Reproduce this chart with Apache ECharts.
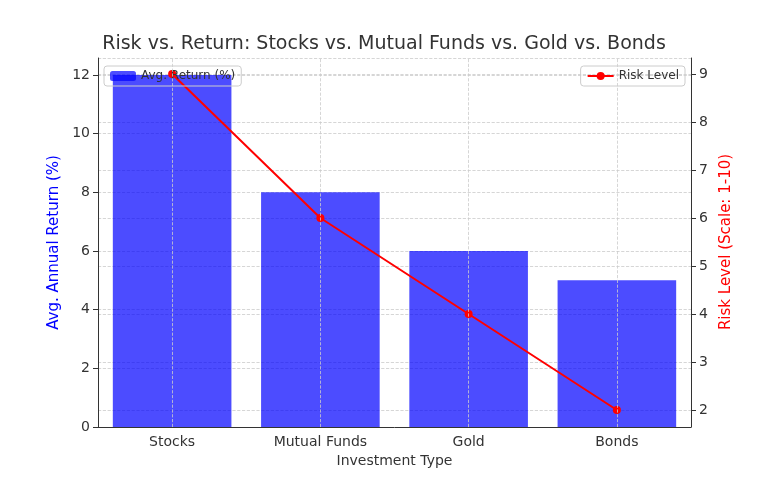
<!DOCTYPE html>
<html><head><meta charset="utf-8">
<script src="https://cdn.jsdelivr.net/npm/echarts@6/dist/echarts.min.js"></script>
<style>html,body{margin:0;background:#fff}#c{width:768px;height:480px}</style>
</head><body><div id="c"></div>
<script>
var categories = ['Stocks', 'Mutual Funds', 'Gold', 'Bonds'];
var avgReturn = [12, 8, 6, 5];
var riskLevel = [9, 6, 4, 2];

var chart = echarts.init(document.getElementById('c'));
var font = 'DejaVu Sans';
var dash = {show: true, lineStyle: {color: '#cccccc', type: 'dashed', width: 0.8}};
var option = {
    textStyle: {fontFamily: font},
    animation: false,
    title: {text: 'Risk vs. Return: Stocks vs. Mutual Funds vs. Gold vs. Bonds', left: 'center', top: 30,
        textStyle: {fontFamily: font, fontSize: 19, fontWeight: 'normal', color: '#333'}},
    legend: [
        {data: ['Avg. Return (%)'], left: 104, top: 66, itemWidth: 26, itemHeight: 10,
         borderColor: '#ccc', borderWidth: 1, borderRadius: 3, padding: [4, 6],
         textStyle: {fontSize: 12, color: '#333'}},
        {data: ['Risk Level'], right: 83, top: 66, itemWidth: 26, itemHeight: 10,
         borderColor: '#ccc', borderWidth: 1, borderRadius: 3, padding: [4, 6],
         textStyle: {fontSize: 12, color: '#333'}}
    ],
    grid: [
        {left: 98, right: 77, top: 58, bottom: 53},
        {left: 98, right: 77, top: 74, bottom: 70}
    ],
    xAxis: [
        {type: 'category', gridIndex: 0, data: categories, name: 'Investment Type', nameLocation: 'middle', nameGap: 26,
         nameTextStyle: {fontSize: 14, color: '#333'},
         axisLine: {lineStyle: {color: '#333'}}, axisTick: {alignWithLabel: true, lineStyle: {color: '#333'}},
         axisLabel: {fontSize: 14, color: '#333'}, splitLine: {show: false}},
        {type: 'category', gridIndex: 1, data: categories, show: false}
    ],
    yAxis: [
        {type: 'value', gridIndex: 0, min: 0, max: 12.58, interval: 2, name: 'Avg. Annual Return (%)',
         nameLocation: 'middle', nameGap: 34, nameTextStyle: {fontSize: 15, color: '#0000ff'},
         axisLine: {show: true, lineStyle: {color: '#333'}}, axisTick: {show: true, lineStyle: {color: '#333'}},
         axisLabel: {fontSize: 14, color: '#333', showMaxLabel: false}, splitLine: dash},
        {type: 'value', gridIndex: 0, position: 'right', min: 0, max: 1, axisLabel: {show: false},
         axisTick: {show: false}, splitLine: {show: false}, axisLine: {show: true, lineStyle: {color: '#333'}}},
        {type: 'value', gridIndex: 1, position: 'right', min: 2, max: 9, interval: 1, name: 'Risk Level (Scale: 1-10)',
         nameLocation: 'middle', nameGap: 28, nameRotate: 90, nameTextStyle: {fontSize: 15, color: '#ff0000'},
         axisLine: {show: false}, axisTick: {show: true, lineStyle: {color: '#333'}},
         axisLabel: {fontSize: 14, color: '#333'}, splitLine: dash}
    ],
    series: [
        {name: 'Avg. Return (%)', type: 'bar', xAxisIndex: 0, yAxisIndex: 0, data: avgReturn, barWidth: '80%',
         itemStyle: {color: 'rgba(0,0,255,0.7)'},
         markLine: {silent: true, symbol: 'none', label: {show: false},
            lineStyle: {color: '#cccccc', type: 'dashed', width: 0.8},
            data: categories.map(function (c) { return {xAxis: c}; })}},
        {name: 'Risk Level', type: 'line', xAxisIndex: 1, yAxisIndex: 2, data: riskLevel,
         symbol: 'circle', symbolSize: 8, itemStyle: {color: '#ff0000'}, lineStyle: {color: '#ff0000', width: 2}}
    ]
};
chart.setOption(option);
</script></body></html>
